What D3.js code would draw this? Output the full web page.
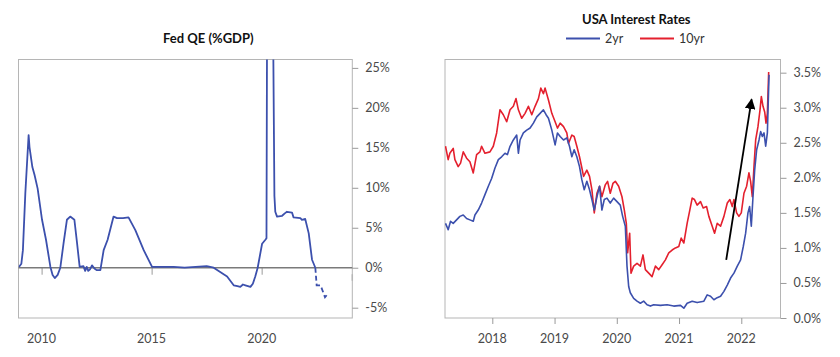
<!DOCTYPE html>
<html>
<head>
<meta charset="utf-8">
<script src="https://cdn.jsdelivr.net/npm/d3@7"></script>
<style>
  html, body { margin: 0; padding: 0; background: #fff; }
  svg { display: block; }
  text { font-family: Lato, "Open Sans", sans-serif; }
</style>
</head>
<body>
<svg id="chart" width="840" height="357"></svg>
<script>
// ---------------- DATA ----------------
// Left panel: Fed QE (%GDP)
const qeYears = [2008.97,2009.08,2009.15,2009.26,2009.41,2009.45,2009.58,2009.68,2009.82,2010.02,2010.20,2010.40,2010.50,2010.60,2010.73,2010.85,2011.00,2011.15,2011.30,2011.49,2011.61,2011.73,2011.90,2011.98,2012.05,2012.12,2012.20,2012.29,2012.40,2012.50,2012.67,2012.82,2013.00,2013.27,2013.43,2013.70,2013.95,2014.26,2014.64,2015.02,2015.50,2016.00,2016.50,2017.00,2017.50,2017.82,2018.43,2018.73,2018.90,2019.03,2019.15,2019.26,2019.49,2019.60,2019.71,2019.82,2020.02,2020.17,2020.22,2020.26,2020.48,2020.58,2020.62,2020.70,2020.93,2021.05,2021.15,2021.38,2021.45,2021.76,2021.83,2021.98,2022.14,2022.29,2022.44];
const qeValues = [0.1,0.5,2.2,9.3,16.6,15.1,12.6,11.6,9.9,6.0,3.5,0.1,-0.9,-1.3,-0.9,0.0,3.1,6.0,6.4,6.0,3.1,0.1,0.2,-0.4,0.1,-0.4,-0.2,0.3,-0.1,-0.3,-0.3,2.2,3.5,6.4,6.2,6.2,6.3,4.7,2.2,0.1,0.1,0.1,0.0,0.1,0.2,0.0,-1.1,-2.2,-2.3,-2.4,-2.1,-2.2,-2.4,-2.0,-1.1,0.0,3.0,3.5,3.7,45,45,9,7,6.4,6.5,6.8,7.0,6.9,6.3,6.2,6.0,6.1,4.3,1.0,0.0];
const qeProjYears = [2022.44,2022.50,2022.68,2022.88,2022.97];
const qeProjValues = [0.0,-2.2,-2.2,-3.7,-3.4];
const qeXTicks = [2010,2015,2020];
const qeYTicks = [25,20,15,10,5,0,-5];

// Right panel: USA Interest Rates
const tenYrYears = [2017.248,2017.291,2017.318,2017.372,2017.399,2017.452,2017.490,2017.533,2017.587,2017.640,2017.694,2017.748,2017.801,2017.828,2017.882,2017.962,2018.016,2018.070,2018.123,2018.177,2018.231,2018.285,2018.338,2018.381,2018.419,2018.472,2018.526,2018.580,2018.634,2018.687,2018.741,2018.779,2018.821,2018.848,2018.902,2018.956,2019.009,2019.047,2019.090,2019.144,2019.197,2019.224,2019.278,2019.315,2019.358,2019.401,2019.439,2019.466,2019.519,2019.562,2019.600,2019.638,2019.681,2019.723,2019.761,2019.815,2019.852,2019.895,2019.938,2019.976,2020.030,2020.083,2020.121,2020.153,2020.174,2020.207,2020.228,2020.271,2020.325,2020.379,2020.421,2020.459,2020.513,2020.566,2020.620,2020.674,2020.728,2020.781,2020.835,2020.889,2020.942,2020.996,2021.034,2021.077,2021.130,2021.173,2021.211,2021.248,2021.291,2021.345,2021.388,2021.442,2021.479,2021.533,2021.571,2021.613,2021.667,2021.721,2021.775,2021.817,2021.855,2021.882,2021.925,2021.962,2022.000,2022.043,2022.086,2022.123,2022.150,2022.177,2022.204,2022.231,2022.268,2022.301,2022.322,2022.349,2022.376,2022.397,2022.419,2022.440];
const tenYrValues = [2.45,2.26,2.35,2.42,2.26,2.16,2.21,2.37,2.28,2.23,2.07,2.33,2.37,2.45,2.35,2.37,2.45,2.64,2.97,2.90,2.80,2.97,3.02,3.13,2.97,2.85,2.92,3.02,2.90,3.02,3.13,3.28,3.20,3.28,3.11,2.92,2.80,2.71,2.78,2.73,2.64,2.49,2.61,2.59,2.45,2.30,2.14,2.02,2.11,2.02,1.83,1.50,1.78,1.88,1.73,1.90,1.95,1.78,1.92,1.95,1.88,1.73,1.54,1.35,0.93,1.21,0.64,0.74,0.78,0.74,0.90,0.69,0.64,0.59,0.74,0.69,0.76,0.83,0.93,0.97,1.00,1.02,1.14,1.07,1.35,1.54,1.71,1.69,1.61,1.66,1.57,1.59,1.45,1.31,1.21,1.35,1.31,1.45,1.64,1.69,1.59,1.69,1.50,1.45,1.50,1.78,1.88,2.07,1.95,1.73,2.16,2.54,2.73,2.97,3.16,3.02,2.94,2.78,2.92,3.51];
const twoYrYears = [2017.248,2017.291,2017.329,2017.372,2017.426,2017.479,2017.533,2017.587,2017.640,2017.694,2017.721,2017.774,2017.828,2017.882,2017.936,2017.989,2018.043,2018.097,2018.150,2018.204,2018.242,2018.285,2018.338,2018.392,2018.419,2018.446,2018.499,2018.553,2018.607,2018.660,2018.714,2018.768,2018.821,2018.864,2018.902,2018.956,2019.009,2019.047,2019.090,2019.144,2019.197,2019.240,2019.278,2019.315,2019.358,2019.401,2019.439,2019.477,2019.519,2019.562,2019.600,2019.638,2019.681,2019.723,2019.761,2019.799,2019.842,2019.895,2019.949,2020.003,2020.056,2020.094,2020.137,2020.164,2020.191,2020.217,2020.271,2020.325,2020.379,2020.432,2020.486,2020.540,2020.593,2020.701,2020.808,2020.915,2021.023,2021.077,2021.130,2021.211,2021.291,2021.399,2021.452,2021.506,2021.560,2021.613,2021.667,2021.721,2021.775,2021.828,2021.882,2021.936,2021.989,2022.032,2022.070,2022.107,2022.134,2022.161,2022.188,2022.215,2022.247,2022.285,2022.311,2022.338,2022.365,2022.392,2022.419,2022.446];
const twoYrValues = [1.35,1.26,1.38,1.35,1.40,1.45,1.47,1.42,1.40,1.38,1.47,1.54,1.64,1.76,1.88,1.99,2.14,2.26,2.30,2.35,2.33,2.45,2.54,2.61,2.35,2.54,2.64,2.68,2.71,2.78,2.87,2.92,2.97,2.90,2.85,2.68,2.47,2.64,2.59,2.54,2.57,2.45,2.30,2.40,2.30,2.16,1.97,1.83,1.95,1.83,1.69,1.54,1.73,1.88,1.54,1.69,1.71,1.64,1.71,1.66,1.61,1.45,1.31,0.74,0.45,0.36,0.28,0.24,0.21,0.24,0.19,0.17,0.19,0.18,0.19,0.17,0.18,0.14,0.21,0.24,0.22,0.24,0.33,0.31,0.26,0.29,0.31,0.38,0.47,0.57,0.64,0.74,0.83,1.02,1.21,1.50,1.59,1.31,1.73,2.11,2.40,2.54,2.66,2.59,2.64,2.45,2.64,3.47];
const rateXTicks = [2018,2019,2020,2021,2022];
const rateYTicks = [0,0.5,1.0,1.5,2.0,2.5,3.0,3.5];
const arrowYears = [2021.758,2022.166];
const arrowValues = [0.83,3.12];
const seriesNames = ["2yr","10yr"];
const seriesColors = ["#3c50ad","#e4202e"];

// ---------------- DRAW ----------------
const svg = d3.select("#chart");
const frameColor = "#b5b5b5";
const tickColor = "#9a9a9a";
const labelColor = "#4a4a4a";

// defs
const defs = svg.append("defs");
defs.append("clipPath").attr("id","clipL").append("rect")
  .attr("x",18.5).attr("y",59.5).attr("width",352.3-18.5).attr("height",318-59.5);
defs.append("clipPath").attr("id","clipR").append("rect")
  .attr("x",445).attr("y",59.5).attr("width",780.5-445).attr("height",318-59.5);
defs.append("marker").attr("id","arrowhead").attr("viewBox","0 0 10 10")
  .attr("refX",9).attr("refY",5).attr("markerWidth",6).attr("markerHeight",6)
  .attr("markerUnits","strokeWidth").attr("orient","auto")
  .append("path").attr("d","M0,0 L10,5 L0,10 Z").attr("fill","#000");

// ===== Left panel =====
const xL = d3.scaleLinear().domain([2008.95, 2024.12]).range([18.5, 352.3]);
const yL = d3.scaleLinear().domain([-6.29, 26.05]).range([318, 59.5]);

svg.append("text").attr("x",208.3).attr("y",42.7).attr("text-anchor","middle")
  .attr("font-size","13px").attr("font-weight","bold").attr("fill","#111")
  .text("Fed QE (%GDP)");

svg.append("rect").attr("x",18.5).attr("y",59.5).attr("width",352.3-18.5).attr("height",318-59.5)
  .attr("fill","none").attr("stroke",frameColor).attr("stroke-width",1);

// y axis on right
const yAxisL = d3.axisRight(yL).tickValues(qeYTicks).tickSize(6).tickPadding(7)
  .tickFormat(d => (d < 0 ? "-" + Math.abs(d) : d) + "%");
const gyL = svg.append("g").attr("transform","translate(352.3,0)").call(yAxisL);
gyL.select(".domain").remove();
gyL.selectAll(".tick line").attr("stroke",tickColor);
gyL.selectAll(".tick text").attr("fill",labelColor).attr("font-size","12.5px")
  .attr("font-family","Lato, 'Open Sans', sans-serif");

// x ticks hanging from zero line
const xAxisL = d3.axisBottom(xL).tickValues(qeXTicks).tickSize(7).tickFormat(d3.format("d"));
const gxL = svg.append("g").attr("transform",`translate(0,${yL(0)})`).call(xAxisL);
gxL.select(".domain").remove();
gxL.selectAll(".tick line").attr("stroke",tickColor);
gxL.selectAll(".tick text").remove();
// x labels at bottom
svg.append("g").selectAll("text").data(qeXTicks).join("text")
  .attr("x", d => xL(d)).attr("y",343.3).attr("text-anchor","middle")
  .attr("font-size","12.5px").attr("fill",labelColor).text(d => d);
// small tick at right frame below zero
svg.append("line").attr("x1",352.3).attr("x2",352.3).attr("y1",yL(0)+6.5).attr("y2",yL(0)+13)
  .attr("stroke",frameColor).attr("stroke-width",1.5);

// zero line
svg.append("line").attr("x1",18.5).attr("x2",352.3).attr("y1",yL(0)).attr("y2",yL(0))
  .attr("stroke","#7a7a7a").attr("stroke-width",1.6);

const lineL = d3.line().x(d => xL(d[0])).y(d => yL(d[1]));
const gL = svg.append("g").attr("clip-path","url(#clipL)");
gL.append("path").datum(qeYears.map((y,i) => [y, qeValues[i]]))
  .attr("d", lineL).attr("fill","none").attr("stroke",seriesColors[0])
  .attr("stroke-width",1.8).attr("stroke-linejoin","round");
gL.append("path").datum(qeProjYears.map((y,i) => [y, qeProjValues[i]]))
  .attr("d", lineL).attr("fill","none").attr("stroke",seriesColors[0])
  .attr("stroke-width",1.8).attr("stroke-dasharray","5,3");

// ===== Right panel =====
const xR = d3.scaleLinear().domain([2017.24, 2022.63]).range([445, 780.5]);
const yR = d3.scaleLinear().domain([0, 3.688]).range([318, 59.5]);

svg.append("text").attr("x",636.3).attr("y",24.3).attr("text-anchor","middle")
  .attr("font-size","13px").attr("font-weight","bold").attr("fill","#111")
  .text("USA Interest Rates");

// legend
const legendX = [566, 640];
const legend = svg.append("g");
seriesNames.forEach((name, i) => {
  legend.append("line").attr("x1",legendX[i]).attr("x2",legendX[i]+34)
    .attr("y1",38.5).attr("y2",38.5).attr("stroke",seriesColors[i]).attr("stroke-width",2);
  legend.append("text").attr("x",legendX[i]+39).attr("y",42.8)
    .attr("font-size","12.5px").attr("fill","#333").text(name);
});

svg.append("rect").attr("x",445).attr("y",59.5).attr("width",780.5-445).attr("height",318-59.5)
  .attr("fill","none").attr("stroke",frameColor).attr("stroke-width",1);

const yAxisR = d3.axisRight(yR).tickValues(rateYTicks).tickSize(6).tickPadding(7)
  .tickFormat(d => d3.format(".1f")(d) + "%");
const gyR = svg.append("g").attr("transform","translate(780.5,0)").call(yAxisR);
gyR.select(".domain").remove();
gyR.selectAll(".tick line").attr("stroke",tickColor);
gyR.selectAll(".tick text").attr("fill",labelColor).attr("font-size","12.5px")
  .attr("font-family","Lato, 'Open Sans', sans-serif");

const xAxisR = d3.axisBottom(xR).tickValues(rateXTicks).tickSize(6).tickPadding(9)
  .tickFormat(d3.format("d"));
const gxR = svg.append("g").attr("transform","translate(0,318)").call(xAxisR);
gxR.select(".domain").remove();
gxR.selectAll(".tick line").attr("stroke",tickColor);
gxR.selectAll(".tick text").remove();
svg.append("g").selectAll("text").data(rateXTicks).join("text")
  .attr("x", d => xR(d)).attr("y",343.3).attr("text-anchor","middle")
  .attr("font-size","12.5px").attr("fill",labelColor).text(d => d);

const lineR = d3.line().x(d => xR(d[0])).y(d => yR(d[1]));
const gR = svg.append("g").attr("clip-path","url(#clipR)");
gR.append("path").datum(tenYrYears.map((y,i) => [y, tenYrValues[i]]))
  .attr("d", lineR).attr("fill","none").attr("stroke",seriesColors[1])
  .attr("stroke-width",1.6).attr("stroke-linejoin","round");
gR.append("path").datum(twoYrYears.map((y,i) => [y, twoYrValues[i]]))
  .attr("d", lineR).attr("fill","none").attr("stroke",seriesColors[0])
  .attr("stroke-width",1.6).attr("stroke-linejoin","round");

// arrow annotation
svg.append("line")
  .attr("x1", xR(arrowYears[0])).attr("y1", yR(arrowValues[0]))
  .attr("x2", xR(arrowYears[1])).attr("y2", yR(arrowValues[1]))
  .attr("stroke","#000").attr("stroke-width",1.8).attr("marker-end","url(#arrowhead)");
</script>
</body>
</html>
